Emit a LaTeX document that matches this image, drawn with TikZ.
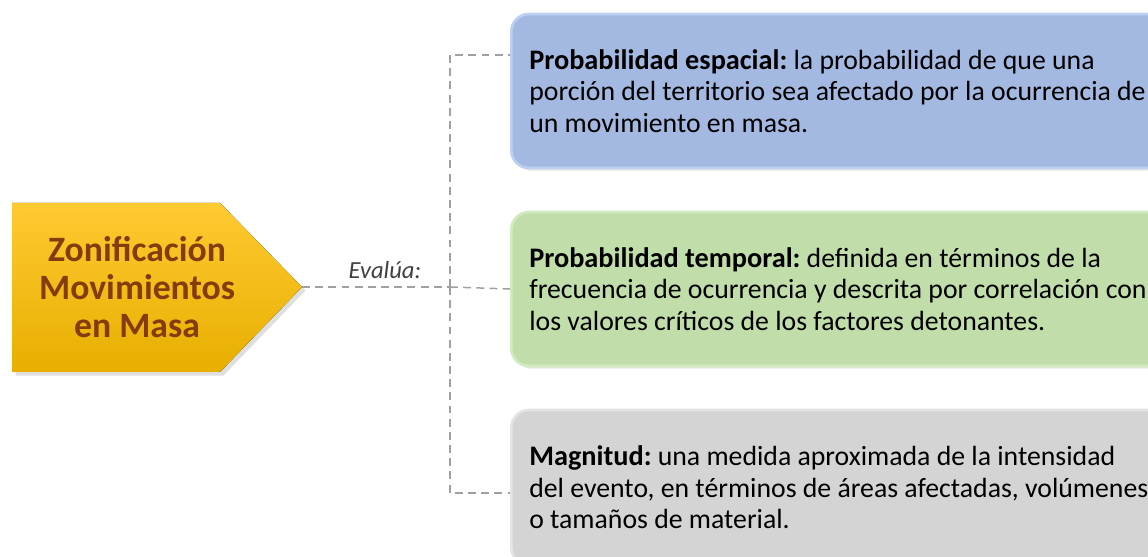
\documentclass[tikz,border=0pt]{standalone}
\usepackage{fontspec}
\setmainfont{Carlito}
\frenchspacing
\usetikzlibrary{shadows}
\definecolor{amarilloA}{RGB}{255,202,50}
\definecolor{amarilloB}{RGB}{232,175,0}
\definecolor{cafe}{RGB}{132,60,12}
\definecolor{azulF}{RGB}{164,185,226}
\definecolor{azulB}{RGB}{190,208,242}
\definecolor{verdeF}{RGB}{193,221,170}
\definecolor{verdeB}{RGB}{210,235,190}
\definecolor{grisF}{RGB}{212,212,212}
\definecolor{grisB}{RGB}{228,228,228}
\definecolor{guion}{RGB}{160,160,160}
\newcommand{\etiqueta}[1]{{\fontsize{16.1}{18}\selectfont\bfseries #1}}
\begin{document}
\begin{tikzpicture}[x=0.02cm, y=0.02cm,
	caja/.style={anchor=west, rounded corners=10pt, line width=1.5pt, minimum height=3.08cm,
		minimum width=12.6cm, inner xsep=0.36cm, align=left, font=\fontsize{15.8}{18}\selectfont,
		drop shadow={opacity=0.2, shadow xshift=1.5pt, shadow yshift=-1.5pt}},
	conector/.style={guion, line width=0.85pt, dash pattern=on 4.5pt off 3pt}]
	\useasboundingbox (0,0) rectangle (1148,557);
	\clip (0,0) rectangle (1148,557);
	\fill[top color=amarilloA, bottom color=amarilloB, drop shadow={opacity=0.25, shadow xshift=2pt, shadow yshift=-2pt}]
		(12,354) -- (220,354) -- (302,270) -- (220,185) -- (12,185) -- cycle;
	\coordinate (punta) at (302,270);
	\node[text=cafe, align=center, font=\fontsize{20.3}{21.6}\selectfont\bfseries] (zona) at (137,270)
		{Zonificación\\Movimientos\\en Masa};
	\node[caja, fill=azulF, draw=azulB] (esp) at (510,466)
		{\etiqueta{Probabilidad espacial:} la probabilidad de que una\\porción del territorio sea afectado por la ocurrencia de\\un movimiento en masa.};
	\node[caja, fill=verdeF, draw=verdeB] (temp) at (510,268)
		{\etiqueta{Probabilidad temporal:} definida en términos de la\\frecuencia de ocurrencia y descrita por correlación con\\los valores críticos de los factores detonantes.};
	\node[caja, fill=grisF, draw=grisB, minimum height=3.1cm] (mag) at (510,69.5)
		{\etiqueta{Magnitud:} una medida aproximada de la intensidad\\del evento, en términos de áreas afectadas, volúmenes\\o tamaños de material.};
	\coordinate (rama) at (450,270);
	\draw[conector] (punta) -- (rama)
		node[pos=0.56, above=1pt, text={rgb,255:red,64;green,64;blue,64}, font=\fontsize{14}{16}\selectfont\itshape] {Evalúa:};
	\draw[conector] (rama) |- ([yshift=0.72cm]esp.west);
	\draw[conector] (rama) -- (temp.west);
	\draw[conector] (rama) |- ([yshift=-0.11cm]mag.west);
\end{tikzpicture}
\end{document}
